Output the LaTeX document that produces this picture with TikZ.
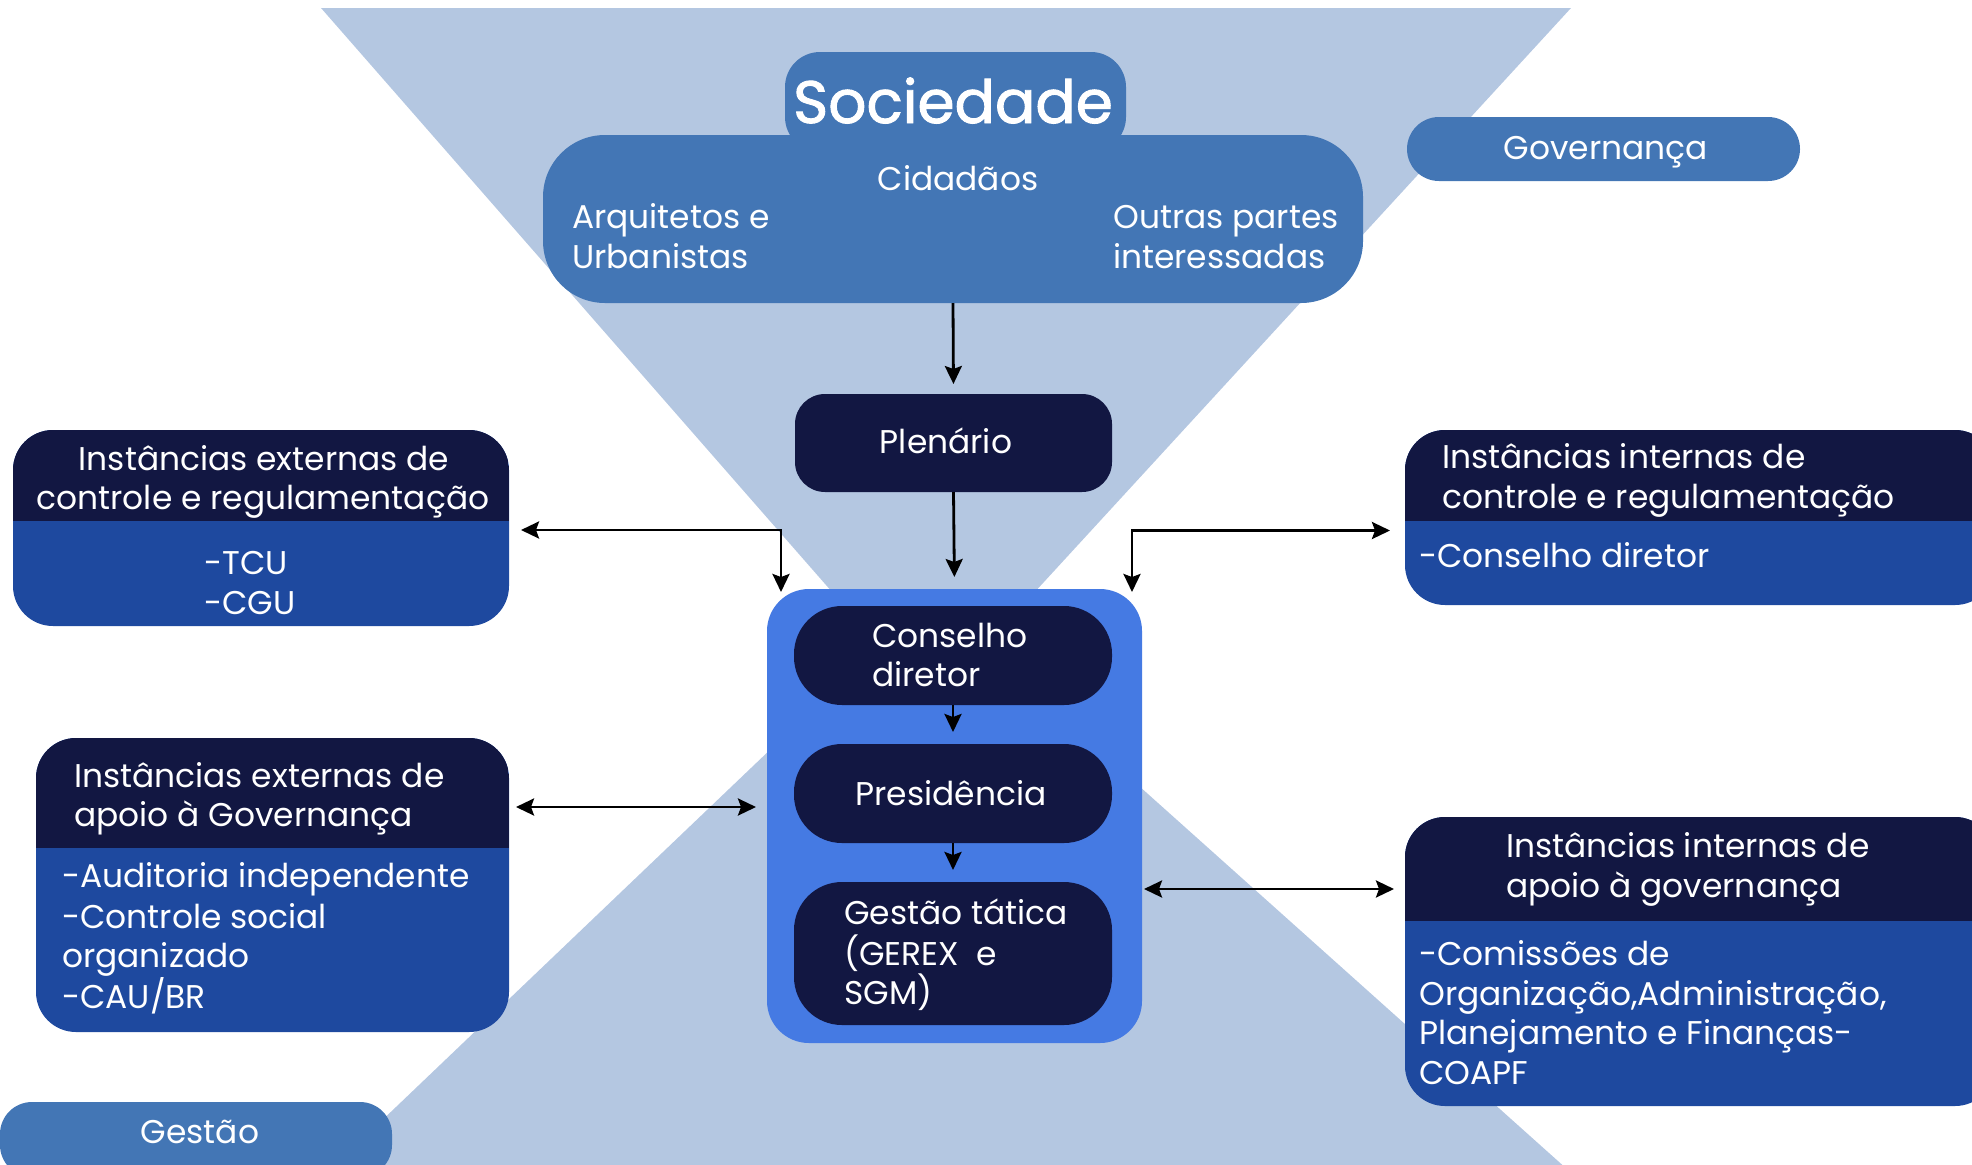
\documentclass[tikz,border=0pt]{standalone}
\usepackage{fontspec}
\setmainfont{Poppins}
\newfontfamily\socfont[FakeBold=1.6]{Poppins}
\usetikzlibrary{arrows.meta,calc}
\definecolor{lightbg}{RGB}{180,199,225}
\definecolor{steel}{RGB}{67,118,181}
\definecolor{navy}{RGB}{18,23,66}
\definecolor{bodyblue}{RGB}{30,73,159}
\definecolor{bright}{RGB}{69,122,227}
\begin{document}
\begin{tikzpicture}[x=1bp,y=-1bp,
  box/.style={inner sep=0pt, outer sep=0pt, anchor=north west},
  txt/.style={text=white, inner sep=0pt, font=\fontsize{33}{40}\selectfont},
  big/.style={text=white, inner sep=0pt, font=\fontsize{60}{70}\socfont},
  conn/.style={draw=black, line width=2.8bp, -{Stealth[length=18bp,width=17bp,inset=3bp]}},
  dconn/.style={draw=black, line width=2.8bp, {Stealth[length=18bp,width=17bp,inset=3bp]}-{Stealth[length=18bp,width=17bp,inset=3bp]}}]
\useasboundingbox (0,0) rectangle (1972,1164);
\begin{scope}
\clip (0,0) rectangle (1972,1164);
% hourglass background
\fill[lightbg] (321,8) -- (1571,8) -- (931,705) -- cycle;
\fill[lightbg] (330,1170) -- (929,598) -- (1568,1170) -- cycle;

% Governança / Gestão labels
\node[box, fill=steel, rounded corners=32bp, minimum width=393bp, minimum height=64bp] (gov) at (1407,117) {};
\node[txt, anchor=base] (govt) at (1606,159) {Governança};
\node[box, fill=steel, rounded corners=32bp, minimum width=392bp, minimum height=75bp] (ges) at (0,1102) {};
\node[txt, anchor=base] (gest) at (200,1143) {Gestão};

% Sociedade
\node[box, fill=steel, rounded corners=35bp, minimum width=341bp, minimum height=100bp] (soctab) at (785,52) {};
\node[box, fill=steel, rounded corners=62bp, minimum width=820bp, minimum height=168bp] (soc) at (543,135) {};
\node[big, anchor=base] (soct) at (953,123) {Sociedade};
\node[txt, anchor=base] (cid) at (958,190) {Cidadãos};
\node[txt, anchor=base west] (arq1) at (572,228) {Arquitetos e};
\node[txt, anchor=base west] (arq2) at (572,268) {Urbanistas};
\node[txt, anchor=base west] (out1) at (1113,228) {Outras partes};
\node[txt, anchor=base west] (out2) at (1113,268) {interessadas};

% Plenário
\node[box, fill=navy, rounded corners=30bp, minimum width=317bp, minimum height=98bp] (plen) at (795,394) {};
\node[txt, anchor=base] (plent) at (946,453) {Plenário};

% central block
\node[box, fill=bright, rounded corners=42bp, minimum width=375bp, minimum height=454bp] (central) at (767,589) {};
\node[box, fill=navy, rounded corners=48bp, minimum width=318bp, minimum height=99bp] (cons) at (794,606) {};
\node[txt, anchor=base west] (cons1) at (872,647) {Conselho};
\node[txt, anchor=base west] (cons2) at (872,686) {diretor};
\node[box, fill=navy, rounded corners=48bp, minimum width=318bp, minimum height=99bp] (pres) at (794,744) {};
\node[txt, anchor=base] (prest) at (951,805) {Presidência};
\node[box, fill=navy, rounded corners=48bp, minimum width=318bp, minimum height=143bp] (gtat) at (794,882) {};
\node[txt, anchor=base west] (gt1) at (844,924) {Gestão tática};
\node[txt, anchor=base west] (gt2) at (844,965) {(GEREX\ \ e};
\node[txt, anchor=base west] (gt3) at (844,1004) {SGM)};

% external control box
\node[box, fill=bodyblue, rounded corners=40bp, minimum width=496bp, minimum height=196bp] (ext1) at (13,430) {};
\begin{scope}
\clip[rounded corners=40bp] (ext1.north west) rectangle (ext1.south east);
\fill[navy] (ext1.north west) rectangle (ext1.east |- 0,521);
\end{scope}
\node[txt, anchor=base] (e1a) at (264,470) {Instâncias externas de};
\node[txt, anchor=base] (e1b) at (263,509) {controle e regulamentação};
\node[txt, anchor=base west] (e1c) at (204,574) {-TCU};
\node[txt, anchor=base west] (e1d) at (204,614) {-CGU};

% external support box
\node[box, fill=bodyblue, rounded corners=40bp, minimum width=473bp, minimum height=294bp] (ext2) at (36,738) {};
\begin{scope}
\clip[rounded corners=40bp] (ext2.north west) rectangle (ext2.south east);
\fill[navy] (ext2.north west) rectangle (ext2.east |- 0,848);
\end{scope}
\node[txt, anchor=base west] (e2a) at (74,787) {Instâncias externas de};
\node[txt, anchor=base west] (e2b) at (74,826) {apoio à Governança};
\node[txt, anchor=base west] (e2c) at (62,887) {-Auditoria independente};
\node[txt, anchor=base west] (e2d) at (62,928) {-Controle social};
\node[txt, anchor=base west] (e2e) at (62,967) {organizado};
\node[txt, anchor=base west] (e2f) at (62,1008) {-CAU/BR};

% internal control box
\node[box, fill=bodyblue, rounded corners=40bp, minimum width=590bp, minimum height=175bp] (int1) at (1405,430) {};
\begin{scope}
\clip[rounded corners=40bp] (int1.north west) rectangle (int1.south east);
\fill[navy] (int1.north west) rectangle (int1.east |- 0,521);
\end{scope}
\node[txt, anchor=base west] (i1a) at (1442,468) {Instâncias internas de};
\node[txt, anchor=base west] (i1b) at (1442,508) {controle e regulamentação};
\node[txt, anchor=base west] (i1c) at (1419,567) {-Conselho diretor};

% internal support box
\node[box, fill=bodyblue, rounded corners=40bp, minimum width=590bp, minimum height=289bp] (int2) at (1405,817) {};
\begin{scope}
\clip[rounded corners=40bp] (int2.north west) rectangle (int2.south east);
\fill[navy] (int2.north west) rectangle (int2.east |- 0,921);
\end{scope}
\node[txt, anchor=base west] (i2a) at (1506,857) {Instâncias internas de};
\node[txt, anchor=base west] (i2b) at (1506,897) {apoio à governança};
\node[txt, anchor=base west] (i2c) at (1419,965) {-Comissões de};
\node[txt, anchor=base west] (i2d) at (1419,1005) {Organização,Administração,};
\node[txt, anchor=base west] (i2e) at (1419,1044) {Planejamento e Finanças-};
\node[txt, anchor=base west] (i2f) at (1419,1084) {COAPF};

% connectors
\draw[conn, shorten >=10bp] (soc.south) -- (plen.north);
\draw[conn, shorten >=12bp] (plen.south) -- (central.north);
\draw[conn, shorten >=12bp] (cons.south) -- (pres.north);
\draw[conn, shorten >=12bp] (pres.south) -- (gtat.north);
\draw[dconn, shorten <=12bp] ($(ext1.east)+(0,2)$) -| ($(central.north west)+(14,3)$);
\draw[dconn, shorten >=15bp] ($(central.north east)+(-10,3)$) |- ($(int1.west)+(0,13)$);
\draw[dconn, shorten <=7bp, shorten >=11bp] (ext2.east |- 0,807) -- (central.west |- 0,807);
\draw[dconn, shorten <=2bp, shorten >=11bp] (central.east |- 0,889) -- (int2.west |- 0,889);
\end{scope}
\end{tikzpicture}
\end{document}
